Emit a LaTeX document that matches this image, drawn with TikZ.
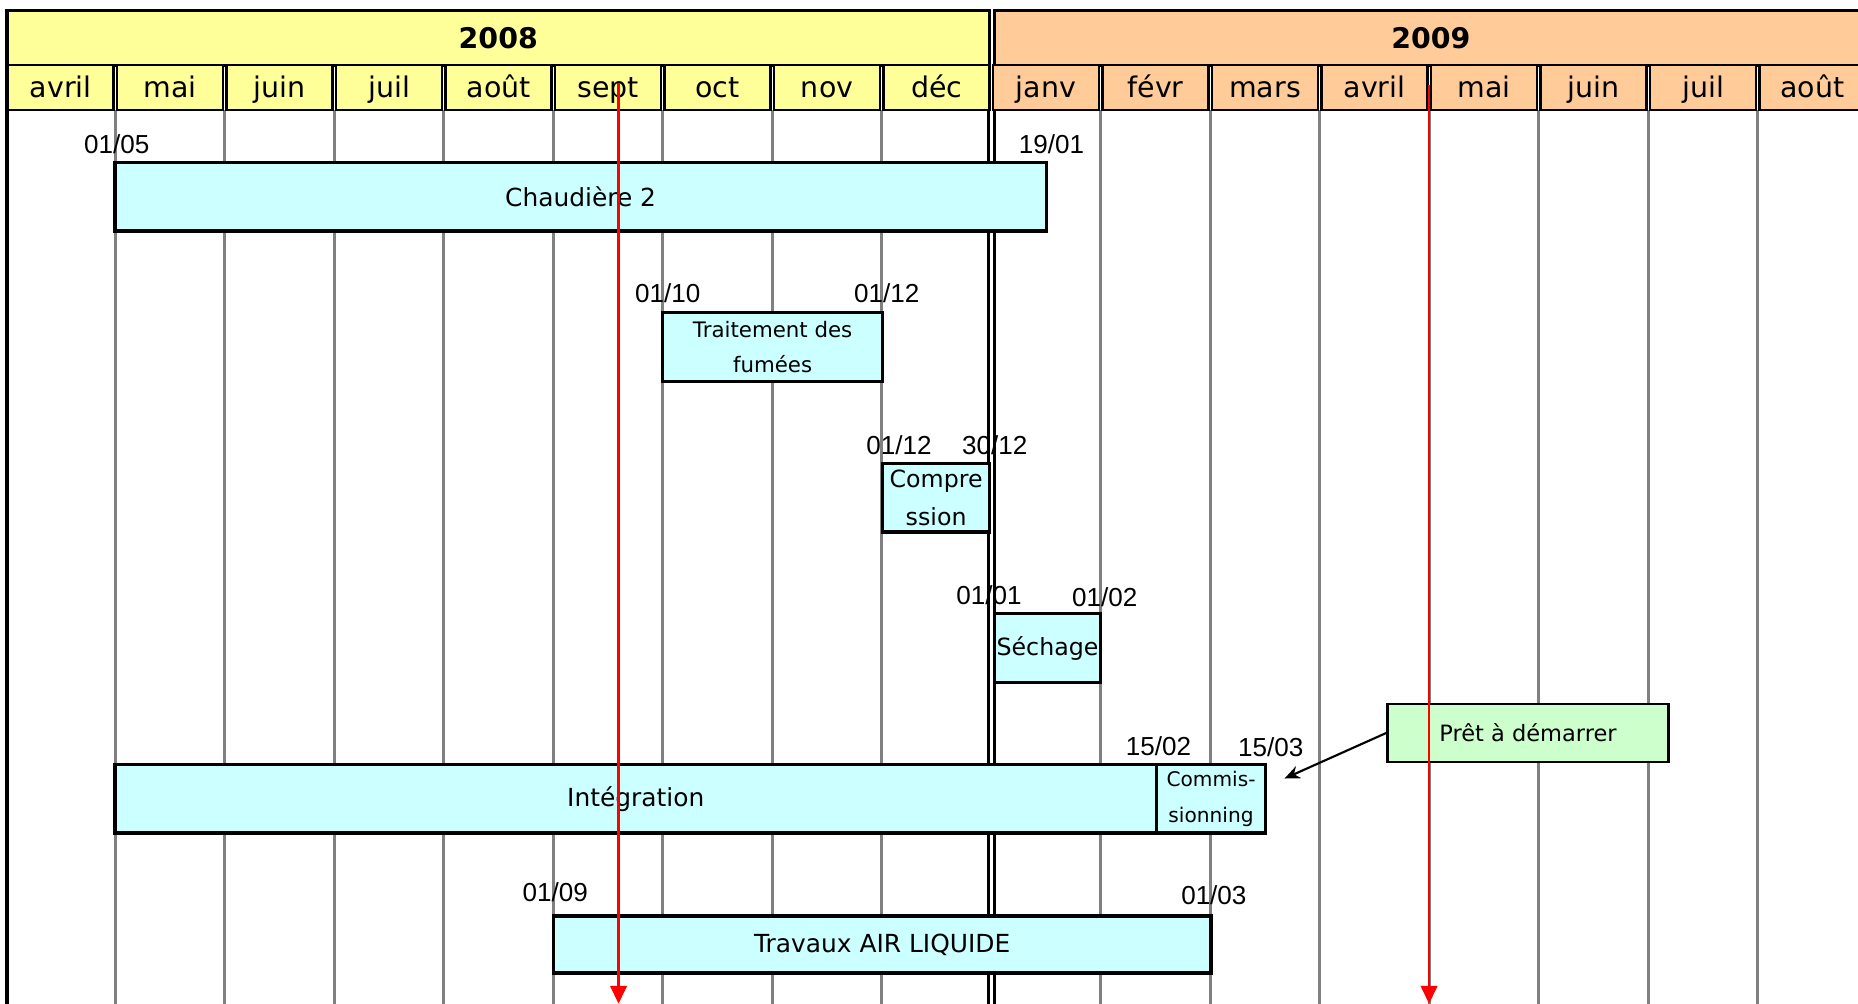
\documentclass[tikz,border=0pt]{standalone}
\usepackage{fontspec}
\setmainfont{DejaVu Sans}
\newfontfamily\datefont{Liberation Sans}
\usetikzlibrary{arrows.meta}
\definecolor{YearA}{RGB}{255,255,153}
\definecolor{YearB}{RGB}{255,204,153}
\definecolor{TaskCol}{RGB}{204,255,255}
\definecolor{ReadyCol}{RGB}{204,255,204}
\definecolor{GridCol}{RGB}{128,128,128}
\tikzstyle{yearbox} = [draw=black, line width=2.8pt, inner sep=0pt, minimum height=46pt, font=\fontsize{24}{28}\selectfont\bfseries]
\tikzstyle{monthbox} = [draw=black, line width=2pt, inner sep=0pt, minimum width=89.4pt, minimum height=38pt, text height=20pt, text depth=4pt, font=\fontsize{24}{28}\selectfont]
\tikzstyle{taskbar} = [draw=black, line width=2.8pt, fill=TaskCol, inner sep=0pt, minimum height=58pt, align=center, font=\fontsize{21}{30}\selectfont]
\tikzstyle{datelbl} = [inner sep=0pt, yshift=14pt, font=\datefont\fontsize{22}{24}\selectfont]
\tikzstyle{gridline} = [GridCol, line width=2.5pt]
\tikzstyle{redline} = [red, line width=1.8pt, -{Triangle[width=14pt,length=15pt]}]
\tikzstyle{pointer} = [black, line width=1.8pt, -{Stealth[width=11pt,length=13pt]}]

\begin{document}
\begin{tikzpicture}[x=1pt, y=-1pt]
                \useasboundingbox (0,0) rectangle (1568,847);
                \clip (0,0) rectangle (1568,847);
                % grid
                \foreach \i in {1,...,8,10,11,...,16}
                    \draw[gridline] ({5+92.4*\i},93) -- ({5+92.4*\i},847);
                \draw[line width=2.4pt] (834.5,93) -- (834.5,847);
                \draw[line width=2.4pt] (839.5,93) -- (839.5,847);
                \draw[line width=3pt] (6,9) -- (6,847);
                % header
                \node[yearbox, fill=YearA, minimum width=829pt] (y2008) at (420.5,32) {2008};
                \node[yearbox, fill=YearB, minimum width=737pt] (y2009) at (1207.5,32) {2009};
                \foreach \m [count=\i from 0] in {avril,mai,juin,juil,août,sept,oct,nov,déc}
                    \node[monthbox, fill=YearA] (m\i) at ({51.2+92.4*\i},74) {\m};
                \foreach \m [count=\i from 9] in {janv,févr,mars,avril,mai,juin,juil,août}
                    \node[monthbox, fill=YearB] (m\i) at ({51.2+92.4*\i},74) {\m};
                % tasks
                \node[taskbar, minimum width=786pt] (chaud) at (490,166) {Chaudière 2};
                \node[taskbar, minimum width=186pt, font=\fontsize{18}{29}\selectfont] (fumees) at (652,293) {Traitement des\\fumées};
                \node[taskbar, minimum width=90pt, font=\fontsize{20}{32}\selectfont] (compr) at (790,420) {Compre\\ssion};
                \node[taskbar, minimum width=90pt, font=\fontsize{20}{28}\selectfont] (sech) at (884,547) {Séchage};
                \node[taskbar, minimum width=879pt] (integ) at (536.5,674) {Intégration};
                \node[taskbar, minimum width=92pt, font=\fontsize{17}{30}\selectfont] (commis) at (1022,674) {Commis-\\sionning};
                \node[taskbar, minimum width=555pt, minimum height=48pt] (travaux) at (744.5,797) {Travaux AIR LIQUIDE};
                \node[taskbar, fill=ReadyCol, line width=2pt, minimum width=237pt, minimum height=49pt, font=\fontsize{19}{24}\selectfont] (pret) at (1289.5,618.5) {Prêt à démarrer};
                % dates
                \node[datelbl, xshift=3pt] (chaudA) at (chaud.north west) {01/05};
                \node[datelbl, xshift=3pt] (chaudB) at (chaud.north east) {19/01};
                \node[datelbl, xshift=6pt, yshift=1pt] (fumeesA) at (fumees.north west) {01/10};
                \node[datelbl, xshift=2pt, yshift=1pt] (fumeesB) at (fumees.north east) {01/12};
                \node[datelbl, xshift=15pt] (comprA) at (compr.north west) {01/12};
                \node[datelbl, xshift=3pt] (comprB) at (compr.north east) {30/12};
                \node[datelbl, xshift=-3pt] (sechA) at (sech.north west) {01/01};
                \node[datelbl, xshift=2pt, yshift=-1pt] (sechB) at (sech.north east) {01/02};
                \node[datelbl, xshift=3pt] (commisA) at (commis.north west) {15/02};
                \node[datelbl, xshift=3pt, yshift=-1pt] (commisB) at (commis.north east) {15/03};
                \node[datelbl, xshift=3pt, yshift=5pt] (travauxA) at (travaux.north west) {01/09};
                \node[datelbl, xshift=1pt, yshift=2pt] (travauxB) at (travaux.north east) {01/03};
                % ready arrow
                \coordinate (target) at (1084,657);
                \draw[pointer] (pret.west) -- (target);
                % today lines
                \coordinate (nowA) at (522,70);
                \coordinate (nowAend) at (522,847);
                \coordinate (nowB) at (1206,72);
                \coordinate (nowBend) at (1206,847);
                \draw[redline] (nowA) -- (nowAend);
                \draw[redline] (nowB) -- (nowBend);
             \end{tikzpicture}
\end{document}
